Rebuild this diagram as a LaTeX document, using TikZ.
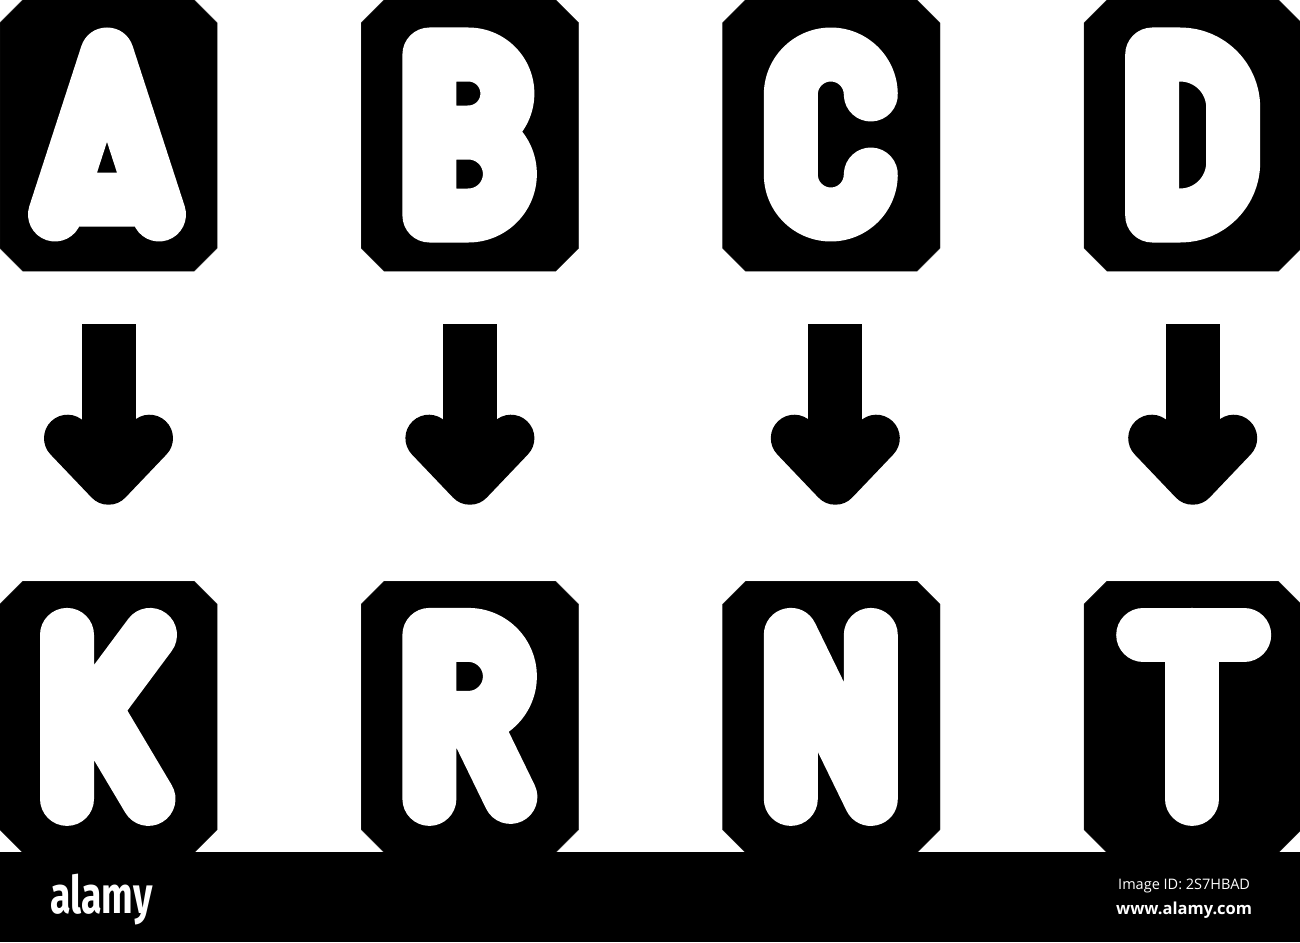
\documentclass[tikz,border=0pt]{standalone}
\usepackage{fontspec}
\usepackage{tikz}
\usetikzlibrary{shapes, arrows, positioning, calc}
\newfontfamily\logofont{Fira Sans}
\newfontfamily\idfont{Open Sans}

\begin{document}
\begin{tikzpicture}[x=1pt, y=-1pt,
		tile/.style={rectangle, minimum width=217pt, minimum height=271pt, inner sep=0pt},
		glyph/.style={draw=white, line width=54pt, line cap=round, line join=round},
		pics/bigarrow/.style={code={
			\fill (-27,-102) rectangle (27,40);
			\draw[line width=47pt, line cap=round, line join=round] (-41,12) -- (0,55) -- (41,12);
		}}]
	\useasboundingbox (0,0) rectangle (1300,942);
	\node[tile] (A) at (108.5,135.5) {};
	\node[tile, right=144pt of A] (B) {};
	\node[tile, right=144pt of B] (C) {};
	\node[tile, right=144pt of C] (D) {};
	\node[tile, below=310pt of A] (K) {};
	\node[tile, below=310pt of B] (R) {};
	\node[tile, below=310pt of C] (N) {};
	\node[tile, below=310pt of D] (T) {};
	\foreach \n in {A,B,C,D,K,R,N,T}
		\fill[draw=black!85] ($(\n.north west)+(23,0)$) -- ($(\n.north east)+(-23,0)$) -- ($(\n.north east)+(0,23)$) -- ($(\n.south east)+(0,-23)$) -- ($(\n.south east)+(-23,0)$) -- ($(\n.south west)+(23,0)$) -- ($(\n.south west)+(0,-23)$) -- ($(\n.north west)+(0,23)$) -- cycle;
	\begin{scope}[shift={(A.center)}]
		\draw[glyph] (-53.5,79) -- (-1.5,-81) -- (50.5,79) (-48.5,64) -- (45.5,64);
	\end{scope}
	\begin{scope}[shift={(B.center)}]
		\draw[glyph] (-40.5,-3) -- (-1.5,-3) arc[start angle=-90, end angle=90, radius=41.5] -- (-40.5,80) -- (-40.5,-81) -- (-1.5,-81) arc[start angle=-90, end angle=90, radius=39] -- cycle;
	\end{scope}
	\begin{scope}[shift={(C.center)}]
		\draw[glyph] (39.5,-41) arc[start angle=0, end angle=-180, radius=40] -- (-40.5,39) arc[start angle=180, end angle=0, radius=40];
	\end{scope}
	\begin{scope}[shift={(D.center)}]
		\draw[glyph] (-40.5,80) -- (-40.5,-81) -- (-12.5,-81) arc[start angle=-90, end angle=0, radius=53] -- (40.5,27) arc[start angle=0, end angle=90, radius=53] -- cycle;
	\end{scope}
	\begin{scope}[shift={(K.center)}]
		\draw[glyph] (-41.5,-82) -- (-41.5,82) (41.5,-82) -- (-13.5,-8) -- (40,82);
	\end{scope}
	\begin{scope}[shift={(R.center)}]
		\draw[glyph] (-40.5,82) -- (-40.5,-82) -- (-1.5,-82) arc[start angle=-90, end angle=90, radius=41.5] -- (-40.5,1) (3.5,4) -- (40.5,80);
	\end{scope}
	\begin{scope}[shift={(N.center)}]
		\draw[glyph] (-40.5,82) -- (-40.5,-82) -- (39.5,82) -- (39.5,-82);
	\end{scope}
	\begin{scope}[shift={(T.center)}]
		\draw[glyph] (-49.5,-82) -- (51.5,-82) (-0.5,-82) -- (-0.5,82);
	\end{scope}
	\pic at ($(A.south)!.5!(K.north)$) {bigarrow};
	\pic at ($(B.south)!.5!(R.north)$) {bigarrow};
	\pic at ($(C.south)!.5!(N.north)+(4,0)$) {bigarrow};
	\pic at ($(D.south)!.5!(T.north)$) {bigarrow};
	\fill (0,852) rectangle (1300,942);
	\node[anchor=base west, text=white, inner sep=0pt, xscale=.72, transform shape, font=\logofont\bfseries\fontsize{52}{52}\selectfont] (logo) at (50,913) {alamy};
	\node[anchor=base west, text=white, inner sep=0pt, font=\idfont\fontsize{14.5}{14.5}\selectfont] (imageid) at (1118,889) {Image ID: 2S7HBAD};
	\node[anchor=base west, text=white, inner sep=0pt, font=\idfont\bfseries\fontsize{16.5}{16.5}\selectfont] (site) at (1116,914) {www.alamy.com};
\end{tikzpicture}
\end{document}
